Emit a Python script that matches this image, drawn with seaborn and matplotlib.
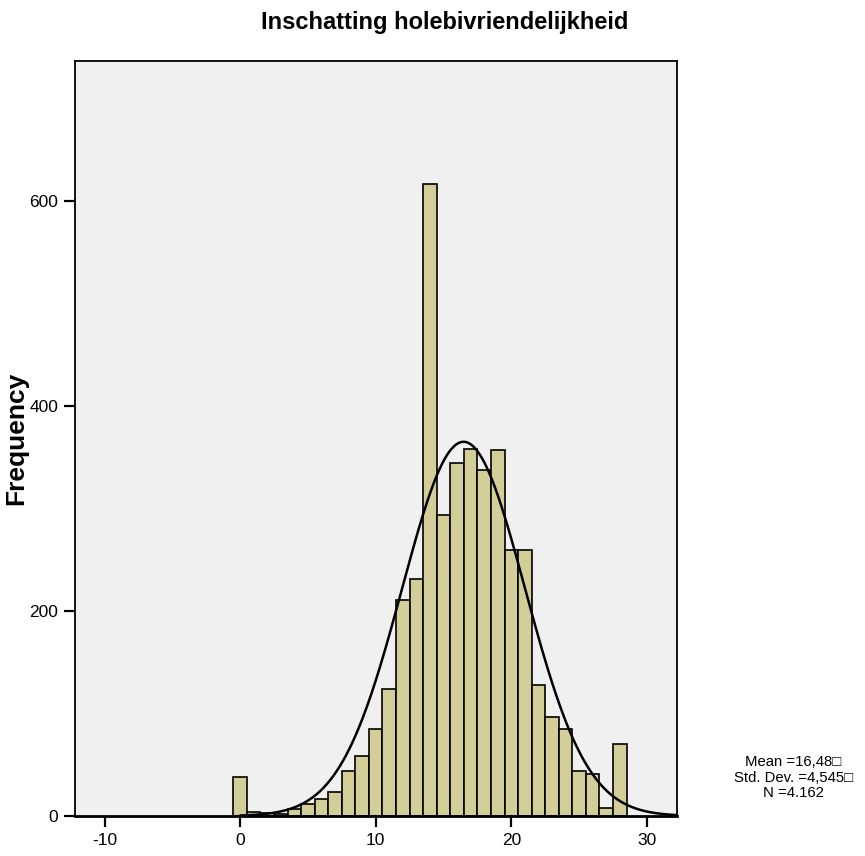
import numpy as np
import pandas as pd
import matplotlib
matplotlib.use("Agg")
import matplotlib.pyplot as plt
import seaborn as sns

# frequentietabel
scores = list(range(0, 29))
counts = [38, 4, 3, 2, 7, 12, 17, 23, 44, 59, 85, 124, 211, 231, 617,
          294, 345, 358, 338, 357, 260, 260, 128, 97, 85, 44, 41, 8, 70]
mean_val = 16.48
sd_val = 4.545
n_val = 4162
x_ticks = [-10, 0, 10, 20, 30]
y_ticks = [0, 200, 400, 600]

df = pd.DataFrame({'score': scores, 'count': counts})

sns.set_style('white')
plt.rcParams['font.family'] = ['Liberation Sans', 'DejaVu Sans']
plt.rcParams['axes.unicode_minus'] = False
plt.rcParams['text.color'] = 'black'

fig = plt.figure(figsize=(8.65, 8.56), dpi=100)
ax = fig.add_axes([0.0867, 0.0467, 0.6956, 0.882])
ax.set_facecolor('#F0F0F0')

sns.histplot(data=df, x='score', weights='count', binwidth=1, binrange=(-0.5, 28.5),
             color='#D3CE97', edgecolor='black', linewidth=1.2, alpha=1, ax=ax)

# normaalcurve
xs = np.linspace(0, 32.2, 400)
ys = n_val * 1.0 / (sd_val * np.sqrt(2 * np.pi)) * np.exp(-0.5 * ((xs - mean_val) / sd_val) ** 2)
sns.lineplot(x=xs, y=ys, color='black', linewidth=1.8, ax=ax)

ax.set_xlim(-12.18, 32.2)
ax.set_ylim(0, 737)
ax.set_xticks(x_ticks)
ax.set_yticks(y_ticks)
ax.tick_params(bottom=True, left=True, direction='out', length=8, width=1.6,
               labelsize=12.5, pad=4, colors='black')
for s in ax.spines.values():
    s.set_color('black')
    s.set_linewidth(1.3)
ax.spines['bottom'].set_linewidth(2)
ax.set_xlabel('')
ax.set_ylabel('Frequency', fontsize=19, fontweight='bold', color='black')
ax.yaxis.set_label_coords(-0.078, 0.5)

fig.text(0.514, 0.974, 'Inschatting holebivriendelijkheid', ha='center', va='center',
         fontsize=17, fontweight='bold')

stats_txt = 'Mean =16,48\u25a1\nStd. Dev. =4,545\u25a1\nN =4.162'
fig.text(0.917, 0.0915, stats_txt, ha='center', va='center', fontsize=10.7,
         linespacing=1.15, multialignment='center')

fig.savefig('out.png', dpi=100)
plt.close()
